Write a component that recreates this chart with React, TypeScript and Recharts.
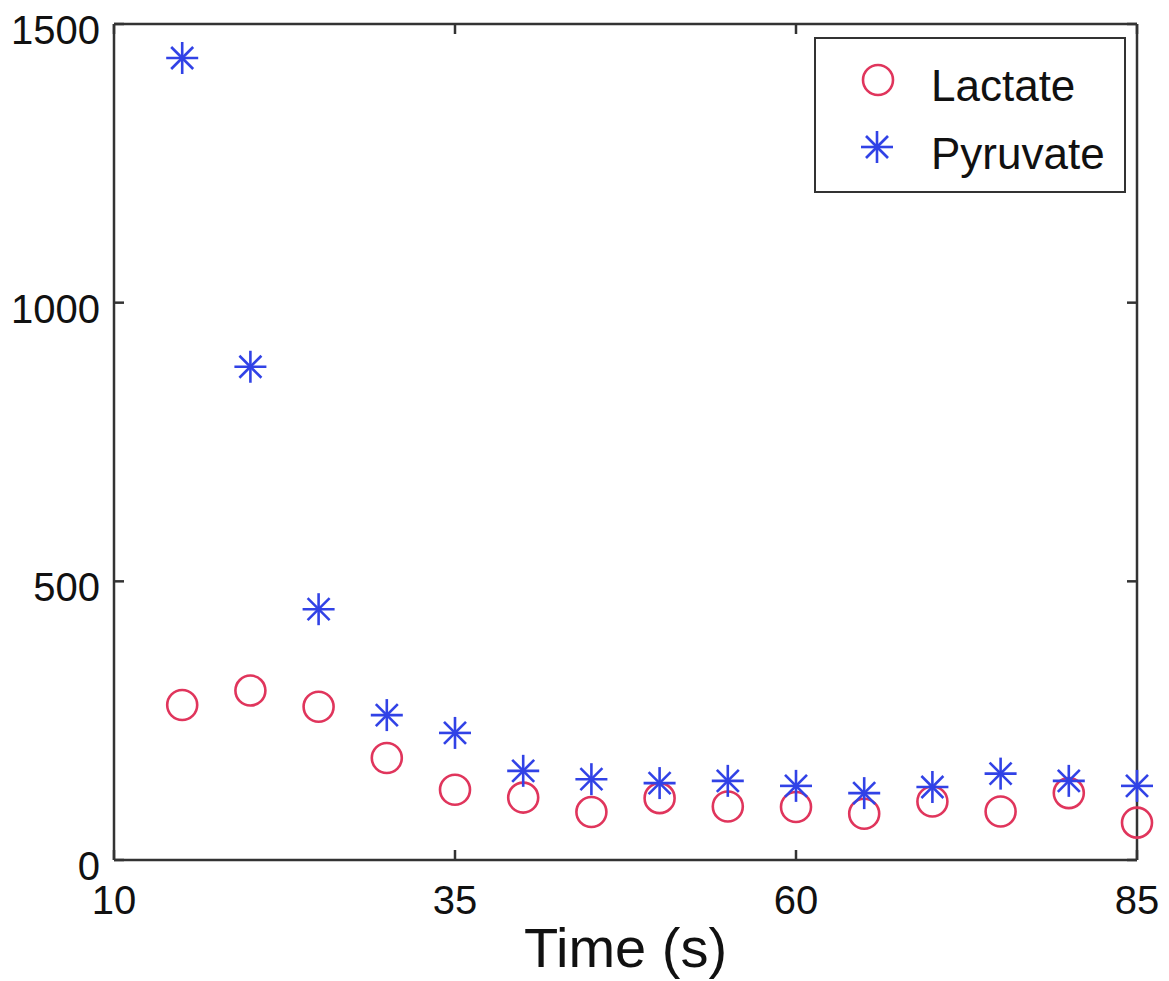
import React from "react";
import { ScatterChart, Scatter, XAxis, YAxis, Legend } from "recharts";

const times = [15, 20, 25, 30, 35, 40, 45, 50, 55, 60, 65, 70, 75, 80, 85];
const lactate = [278, 304, 275, 183, 126, 112, 86, 111, 96, 95, 83, 105, 87, 120, 67];
const pyruvate = [1439, 885, 450, 260, 228, 160, 145, 138, 142, 133, 120, 131, 155, 142, 133];
const xTicks = [10, 35, 60, 85];
const yTicks = [0, 500, 1000, 1500];
const seriesNames = ["Lactate", "Pyruvate"];

const FONT = '"Liberation Sans", Arial, sans-serif';
const RED = "#e0355c";
const BLUE = "#3142e6";
const AXIS = "#333";

const lactateData = times.map((t, i) => ({ t, v: lactate[i] }));
const pyruvateData = times.map((t, i) => ({ t, v: pyruvate[i] }));

const Ring = ({ cx, cy }: any) => (
  <circle cx={cx} cy={cy} r={15} fill="none" stroke={RED} strokeWidth={2.6} />
);

const Star = ({ cx, cy }: any) => {
  const r = 16;
  const d = 11;
  return (
    <g stroke={BLUE} strokeWidth={2.6}>
      <line x1={cx - r} y1={cy} x2={cx + r} y2={cy} />
      <line x1={cx} y1={cy - r} x2={cx} y2={cy + r} />
      <line x1={cx - d} y1={cy - d} x2={cx + d} y2={cy + d} />
      <line x1={cx - d} y1={cy + d} x2={cx + d} y2={cy - d} />
    </g>
  );
};

// invisible marker, only used so the box axes (top/right) get drawn
const Nothing = () => <g />;

const LeftTick = ({ x, y, payload }: any) => (
  <text x={x} y={y + 20} textAnchor="end" fontSize={40} fontFamily={FONT} fill="#111">
    {payload.value}
  </text>
);

const BottomTick = ({ x, y, payload }: any) => (
  <text x={x} y={y + 29} textAnchor="middle" fontSize={40} fontFamily={FONT} fill="#111">
    {payload.value}
  </text>
);

const renderLegend = () => (
  <svg width={312} height={156}>
    <rect x={1} y={1} width={310} height={154} fill="#fff" stroke={AXIS} strokeWidth={2} />
    <Ring cx={64} cy={43} />
    <text x={117} y={64} fontSize={44} fontFamily={FONT} fill="#111">
      {seriesNames[0]}
    </text>
    <Star cx={63} cy={110} />
    <text x={117} y={132} fontSize={44} fontFamily={FONT} fill="#111">
      {seriesNames[1]}
    </text>
  </svg>
);

export default function App() {
  return (
    <div style={{ position: "absolute", left: 0, top: 0, background: "#fff" }}>
      <ScatterChart
        width={1169}
        height={981}
        margin={{ top: 23, right: 31, bottom: 0, left: 0 }}
      >
        <XAxis
          xAxisId="b"
          type="number"
          dataKey="t"
          domain={[10, 85]}
          ticks={xTicks}
          height={121}
          tickSize={-10}
          tickMargin={35}
          stroke={AXIS}
          strokeWidth={2.5}
          tick={<BottomTick />}
          label={{
            value: "Time (s)",
            position: "insideBottom",
            offset: 14,
            fontSize: 56,
            fontFamily: FONT,
            fill: "#111",
          }}
        />
        <XAxis
          xAxisId="t"
          orientation="top"
          type="number"
          dataKey="t"
          domain={[10, 85]}
          ticks={xTicks}
          height={1}
          tickSize={-10}
          stroke={AXIS}
          strokeWidth={2.5}
          tickFormatter={() => ""}
        />
        <YAxis
          yAxisId="l"
          type="number"
          dataKey="v"
          domain={[0, 1500]}
          ticks={yTicks}
          width={114}
          tickSize={-10}
          tickMargin={24}
          stroke={AXIS}
          strokeWidth={2.5}
          tick={<LeftTick />}
        />
        <YAxis
          yAxisId="r"
          orientation="right"
          type="number"
          dataKey="v"
          domain={[0, 1500]}
          ticks={yTicks}
          width={1}
          tickSize={-10}
          stroke={AXIS}
          strokeWidth={2.5}
          tickFormatter={() => ""}
        />
        <Legend
          layout="vertical"
          verticalAlign="middle"
          align="center"
          content={renderLegend}
          wrapperStyle={{ left: 814, top: 37, width: 312, height: 156 }}
        />
        <Scatter
          name={seriesNames[0]}
          data={lactateData}
          xAxisId="b"
          yAxisId="l"
          shape={<Ring />}
          isAnimationActive={false}
        />
        <Scatter
          name={seriesNames[1]}
          data={pyruvateData}
          xAxisId="b"
          yAxisId="l"
          shape={<Star />}
          isAnimationActive={false}
        />
        <Scatter
          data={lactateData}
          xAxisId="t"
          yAxisId="r"
          shape={<Nothing />}
          legendType="none"
          isAnimationActive={false}
        />
      </ScatterChart>
    </div>
  );
}
